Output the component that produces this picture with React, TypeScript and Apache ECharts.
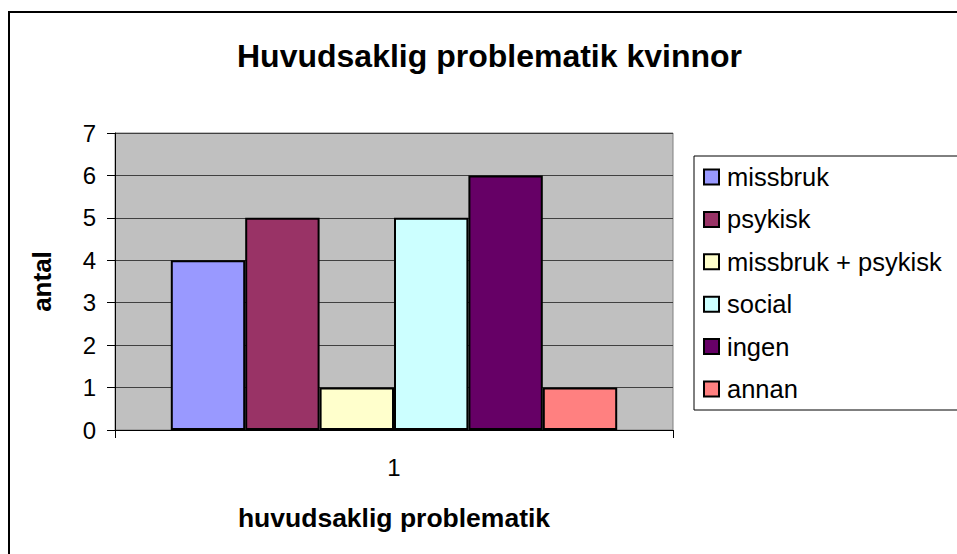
import React, { useEffect, useRef } from "react";
import * as echarts from "echarts";

const categories = ["1"];
const seriesNames = ["missbruk", "psykisk", "missbruk + psykisk", "social", "ingen", "annan"];
const seriesValues = [[4], [5], [1], [5], [6], [1]];
const seriesColors = ["#9999FF", "#993366", "#FFFFCC", "#CCFFFF", "#660066", "#FF8080"];
const yTicks = { min: 0, max: 7, interval: 1 };

const FONT = "'Liberation Sans', Arial, sans-serif";

export default function App() {
  const ref = useRef<HTMLDivElement>(null);
  useEffect(() => {
    if (!ref.current) return;
    const chart = echarts.init(ref.current, null, { renderer: "svg" });
    chart.setOption({
      animation: false,
      backgroundColor: "#ffffff",
      textStyle: { fontFamily: FONT },
      title: {
        text: "Huvudsaklig problematik kvinnor",
        left: 232,
        top: 35,
        textStyle: { fontFamily: FONT, fontSize: 32, fontWeight: "bold", color: "#000" },
      },
      graphic: [
        {
          type: "rect",
          shape: { x: 9, y: 12, width: 1000, height: 600 },
          style: { fill: "none", stroke: "#000", lineWidth: 2 },
          silent: true,
          z: 100,
        },
      ],
      legend: {
        orient: "vertical",
        left: 694,
        top: 156,
        padding: [8, 30, 8, 9],
        itemGap: 16.4,
        itemWidth: 15,
        itemHeight: 15,
        icon: "rect",
        backgroundColor: "#ffffff",
        borderColor: "#000",
        borderWidth: 1,
        borderRadius: 0,
        data: seriesNames,
        textStyle: { fontFamily: FONT, fontSize: 25.5, color: "#000", padding: [0, 0, 0, 3] },
      },
      grid: {
        left: 115,
        right: 284,
        top: 133,
        bottom: 124,
        show: true,
        backgroundColor: "#C0C0C0",
        borderColor: "#808080",
        borderWidth: 1,
        containLabel: false,
      },
      xAxis: {
        type: "category",
        data: categories,
        name: "huvudsaklig problematik",
        nameLocation: "middle",
        nameGap: 74,
        nameTextStyle: { fontFamily: FONT, fontSize: 26.5, fontWeight: "bold", color: "#000" },
        axisLine: { show: true, lineStyle: { color: "#000", width: 1 } },
        axisTick: { show: true, length: 8, alignWithLabel: false, lineStyle: { color: "#000" } },
        axisLabel: { fontFamily: FONT, fontSize: 24, color: "#000", margin: 25 },
        splitLine: { show: false },
      },
      yAxis: {
        type: "value",
        min: yTicks.min,
        max: yTicks.max,
        interval: yTicks.interval,
        name: "antal",
        nameLocation: "middle",
        nameGap: 60,
        nameTextStyle: { fontFamily: FONT, fontSize: 26, fontWeight: "bold", color: "#000" },
        axisLine: { show: true, lineStyle: { color: "#000", width: 1 } },
        axisTick: { show: true, length: 8, lineStyle: { color: "#000" } },
        axisLabel: { fontFamily: FONT, fontSize: 24, color: "#000", margin: 19 },
        splitLine: { show: true, lineStyle: { color: "#404040", width: 1 } },
      },
      series: seriesNames.map((name, i) => ({
        name,
        type: "bar",
        data: seriesValues[i],
        barGap: "0%",
        barCategoryGap: "20%",
        itemStyle: { color: seriesColors[i], borderColor: "#000", borderWidth: 2 },
      })),
    });
    return () => chart.dispose();
  }, []);
  return (
    <div
      ref={ref}
      style={{ position: "fixed", left: 0, top: 0, width: 957, height: 554 }}
    />
  );
}
